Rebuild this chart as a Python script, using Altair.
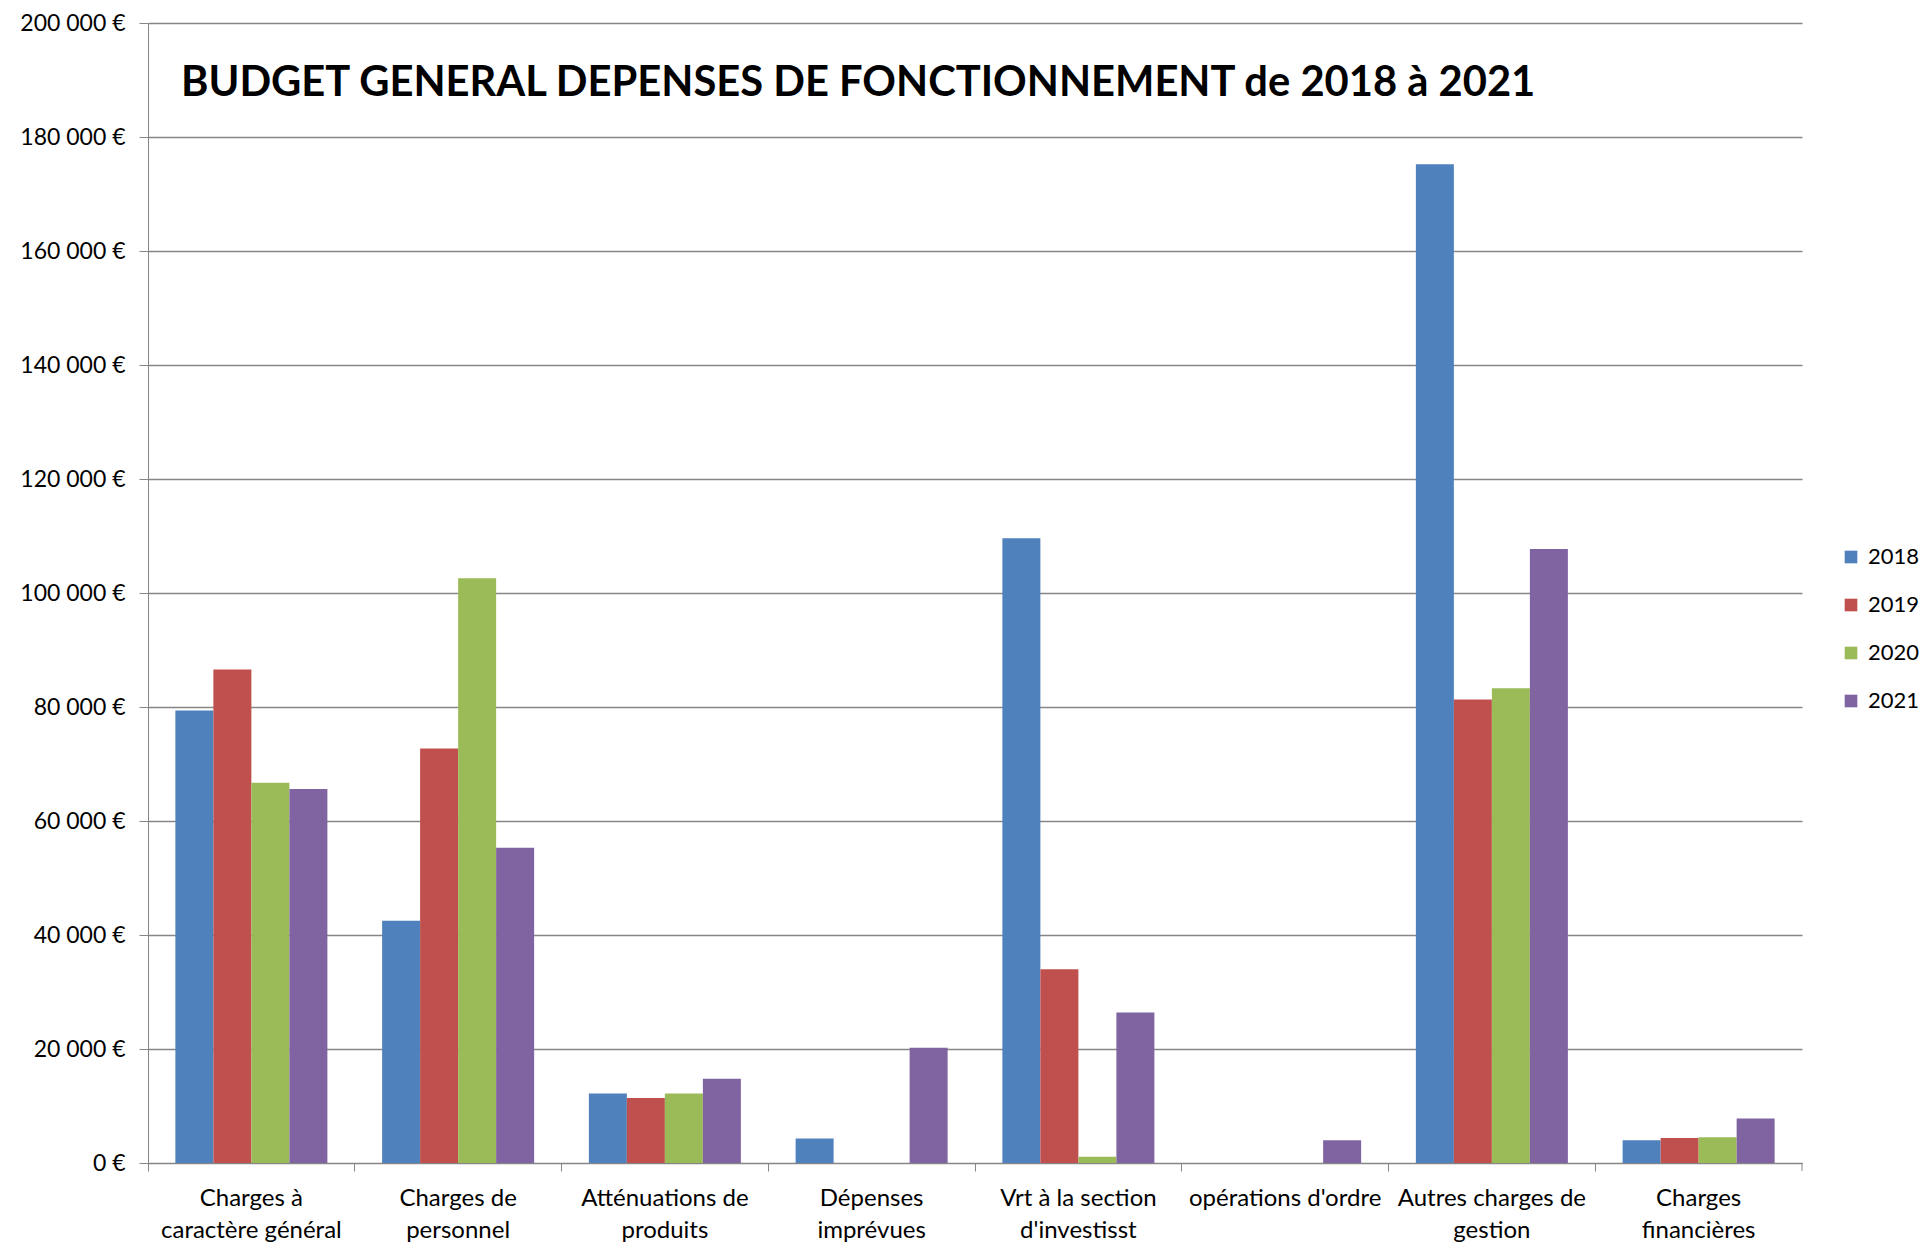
import altair as alt
import pandas as pd

categories = [
    "Charges à\ncaractère général",
    "Charges de\npersonnel",
    "Atténuations de\nproduits",
    "Dépenses\nimprévues",
    "Vrt à la section\nd'investisst",
    "opérations d'ordre",
    "Autres charges de\ngestion",
    "Charges\nfinancières",
]
years = ["2018", "2019", "2020", "2021"]
v2018 = [79400, 42500, 12200, 4300, 109600, 0, 175200, 4000]
v2019 = [86600, 72700, 11400, 0, 34000, 0, 81300, 4400]
v2020 = [66700, 102600, 12200, 0, 1100, 0, 83300, 4500]
v2021 = [65600, 55300, 14800, 20200, 26400, 4000, 107700, 7800]
colors = ["#4F81BD", "#C0504D", "#9BBB59", "#8064A2"]
y_ticks = list(range(0, 200001, 20000))
title_text = "BUDGET GENERAL DEPENSES DE FONCTIONNEMENT de 2018 à 2021"

rows = []
for yr, vals in zip(years, [v2018, v2019, v2020, v2021]):
    for c, v in zip(categories, vals):
        rows.append({"cat": c, "year": yr, "value": v})
df = pd.DataFrame(rows)

FONT = "Lato"
GRID = "#868686"
W, H = 1654, 1140

bars = alt.Chart(df).mark_bar().encode(
    x=alt.X(
        "cat:N",
        sort=categories,
        scale=alt.Scale(paddingInner=0, paddingOuter=0),
        axis=alt.Axis(
            title=None,
            labelAngle=0,
            labelExpr="split(datum.label, '\\n')",
            bandPosition=0,
            ticks=True,
            tickSize=8,
            tickColor=GRID,
            domainColor=GRID,
            labelPadding=15,
            labelFontSize=24,
            labelLineHeight=32,
            labelLimit=400,
            labelFont=FONT,
            labelColor="black",
            labelBaseline="top",
        ),
    ),
    xOffset=alt.XOffset("year:N", sort=years, scale=alt.Scale(paddingInner=0, paddingOuter=0.72)),
    y=alt.Y(
        "value:Q",
        scale=alt.Scale(domain=[0, 200000], nice=False),
        axis=alt.Axis(
            title=None,
            values=y_ticks,
            labelExpr="datum.value == 0 ? '0 €' : format(datum.value / 1000, 'd') + ' 000 €'",
            grid=True,
            gridColor=GRID,
            gridWidth=1.3,
            domainColor=GRID,
            tickColor=GRID,
            tickSize=9,
            labelPadding=14,
            labelFontSize=23,
            labelFont=FONT,
            labelColor="black",
        ),
    ),
    color=alt.Color(
        "year:N",
        sort=years,
        scale=alt.Scale(domain=years, range=colors),
        legend=alt.Legend(
            title=None,
            orient="none",
            legendX=1692,
            legendY=523,
            symbolType="square",
            symbolSize=160,
            symbolStrokeWidth=0,
            labelFontSize=22,
            labelFont=FONT,
            labelColor="black",
            rowPadding=26,
            labelOffset=6,
        ),
    ),
)

end_tick = alt.Chart(pd.DataFrame({"k": [0]})).mark_rule(color=GRID, strokeWidth=1).encode(
    x=alt.value(W), y=alt.value(H), y2=alt.value(H + 8)
)

chart = alt.layer(bars, end_tick).properties(
    width=W,
    height=H,
    title=alt.TitleParams(
        text=title_text,
        anchor="start",
        frame="group",
        dx=33,
        dy=97,
        font=FONT,
        fontSize=41.7,
        fontWeight="bold",
        color="black",
    ),
    padding={"left": 11, "top": 4, "right": 0, "bottom": 0},
).configure_view(stroke=None)

chart.save("out.html", embed_options={"renderer": "svg", "actions": False})
